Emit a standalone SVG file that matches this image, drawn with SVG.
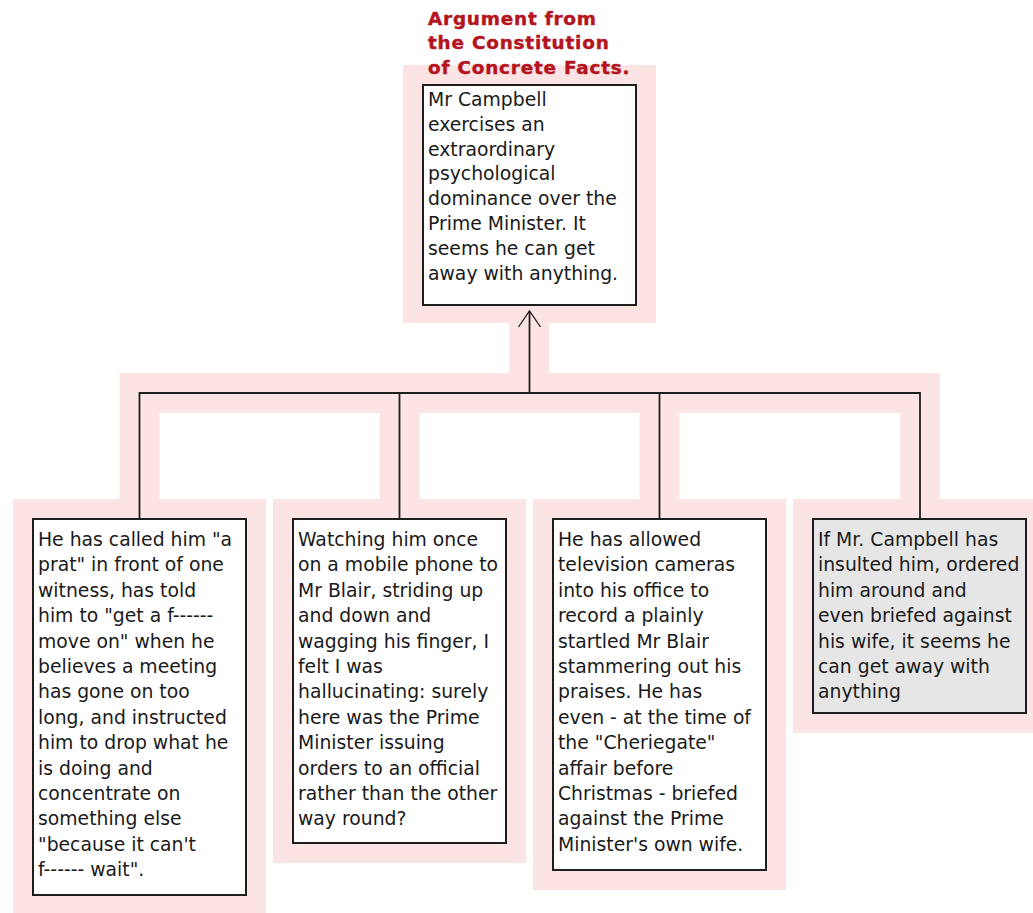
<svg xmlns="http://www.w3.org/2000/svg" width="1033" height="913" viewBox="0 0 1033 913">
  <defs>
    <style>
      .halo { fill: #fde4e4; }
      .band { fill: none; stroke: #fde4e4; stroke-width: 40; stroke-linejoin: miter; stroke-linecap: butt; }
      .box { fill: #ffffff; stroke: #1e1e1e; stroke-width: 2; }
      .box.grey { fill: #e6e6e6; }
      .link { fill: none; stroke: #1e1e1e; stroke-width: 1.8; }
      .body { font-family: "DejaVu Sans", "Liberation Sans", sans-serif; font-size: 18.8px; fill: #1a1a1a; }
      .title { font-family: "DejaVu Sans", "Liberation Sans", sans-serif; font-size: 18.4px; font-weight: bold; letter-spacing: 0.8px; fill: #b3141d; stroke: #b3141d; stroke-width: 0.45px; }
    </style>
    <marker id="openArrow" markerUnits="userSpaceOnUse" viewBox="-18 -13 20 26" refX="0" refY="0" markerWidth="20" markerHeight="26" orient="auto">
      <path d="M -16 -11 L 0 0 L -16 11" fill="none" stroke="#1e1e1e" stroke-width="1.3"/>
    </marker>
  </defs>

  <rect width="1033" height="913" fill="#ffffff"/>

  <!-- pale highlight behind the argument tree -->
  <g id="highlights">
    <path class="band" d="M139.5 499 V393 H920 V499 M399.5 393 V499 M659.5 393 V499 M529.5 393 V323"/>
    <rect class="halo" x="403" y="65" width="253" height="258"/>
    <rect class="halo" x="13" y="499" width="253" height="416"/>
    <rect class="halo" x="273" y="499" width="253" height="364"/>
    <rect class="halo" x="533" y="499" width="253" height="391"/>
    <rect class="halo" x="793" y="499" width="253" height="234"/>
  </g>

  <g id="connectors">
    <path class="link" d="M139.5 519 V393 H920 V519 M399.5 393 V519 M659.5 393 V519"/>
    <path class="link" d="M529.5 393 V311" marker-end="url(#openArrow)"/>
  </g>

  <g id="conclusion">
    <text class="title" x="428">
      <tspan x="428" y="24.5">Argument from</tspan>
      <tspan x="428" y="49.3">the Constitution</tspan>
      <tspan x="428" y="74">of Concrete Facts.</tspan>
    </text>
    <rect class="box" x="423" y="85" width="213" height="220"/>
    <text class="body">
      <tspan x="428" y="106">Mr Campbell</tspan>
      <tspan x="428" y="130.8">exercises an</tspan>
      <tspan x="428" y="155.6">extraordinary</tspan>
      <tspan x="428" y="180.4">psychological</tspan>
      <tspan x="428" y="205.2">dominance over the</tspan>
      <tspan x="428" y="230">Prime Minister. It</tspan>
      <tspan x="428" y="254.8">seems he can get</tspan>
      <tspan x="428" y="279.6">away with anything.</tspan>
    </text>
  </g>

  <g id="premise1">
    <rect class="box" x="33" y="519" width="213" height="376"/>
    <text class="body">
      <tspan x="38" y="546">He has called him "a</tspan>
      <tspan x="38" y="571.4">prat" in front of one</tspan>
      <tspan x="38" y="596.8">witness, has told</tspan>
      <tspan x="38" y="622.2">him to "get a f------</tspan>
      <tspan x="38" y="647.6">move on" when he</tspan>
      <tspan x="38" y="673">believes a meeting</tspan>
      <tspan x="38" y="698.4">has gone on too</tspan>
      <tspan x="38" y="723.8">long, and instructed</tspan>
      <tspan x="38" y="749.2">him to drop what he</tspan>
      <tspan x="38" y="774.6">is doing and</tspan>
      <tspan x="38" y="800">concentrate on</tspan>
      <tspan x="38" y="825.4">something else</tspan>
      <tspan x="38" y="850.8">"because it can't</tspan>
      <tspan x="38" y="876.2">f------ wait".</tspan>
    </text>
  </g>

  <g id="premise2">
    <rect class="box" x="293" y="519" width="213" height="324"/>
    <text class="body">
      <tspan x="298" y="546">Watching him once</tspan>
      <tspan x="298" y="571.4">on a mobile phone to</tspan>
      <tspan x="298" y="596.8">Mr Blair, striding up</tspan>
      <tspan x="298" y="622.2">and down and</tspan>
      <tspan x="298" y="647.6">wagging his finger, I</tspan>
      <tspan x="298" y="673">felt I was</tspan>
      <tspan x="298" y="698.4">hallucinating: surely</tspan>
      <tspan x="298" y="723.8">here was the Prime</tspan>
      <tspan x="298" y="749.2">Minister issuing</tspan>
      <tspan x="298" y="774.6">orders to an official</tspan>
      <tspan x="298" y="800">rather than the other</tspan>
      <tspan x="298" y="825.4">way round?</tspan>
    </text>
  </g>

  <g id="premise3">
    <rect class="box" x="553" y="519" width="213" height="351"/>
    <text class="body">
      <tspan x="558" y="546">He has allowed</tspan>
      <tspan x="558" y="571.4">television cameras</tspan>
      <tspan x="558" y="596.8">into his office to</tspan>
      <tspan x="558" y="622.2">record a plainly</tspan>
      <tspan x="558" y="647.6">startled Mr Blair</tspan>
      <tspan x="558" y="673">stammering out his</tspan>
      <tspan x="558" y="698.4">praises. He has</tspan>
      <tspan x="558" y="723.8">even - at the time of</tspan>
      <tspan x="558" y="749.2">the "Cheriegate"</tspan>
      <tspan x="558" y="774.6">affair before</tspan>
      <tspan x="558" y="800">Christmas - briefed</tspan>
      <tspan x="558" y="825.4">against the Prime</tspan>
      <tspan x="558" y="850.8">Minister's own wife.</tspan>
    </text>
  </g>

  <g id="premise4">
    <rect class="box grey" x="813" y="519" width="213" height="194"/>
    <text class="body">
      <tspan x="818" y="546">If Mr. Campbell has</tspan>
      <tspan x="818" y="571.4">insulted him, ordered</tspan>
      <tspan x="818" y="596.8">him around and</tspan>
      <tspan x="818" y="622.2">even briefed against</tspan>
      <tspan x="818" y="647.6">his wife, it seems he</tspan>
      <tspan x="818" y="673">can get away with</tspan>
      <tspan x="818" y="698.4">anything</tspan>
    </text>
  </g>
</svg>
